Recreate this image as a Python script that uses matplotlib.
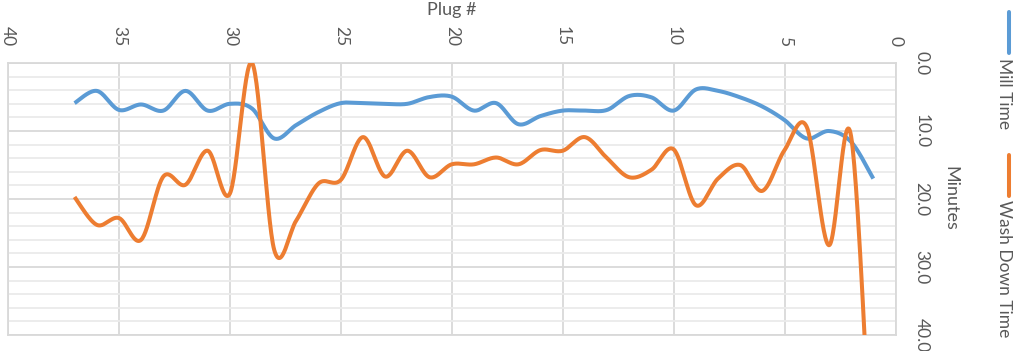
import numpy as np
import matplotlib
matplotlib.use("Agg")
import matplotlib.pyplot as plt
from matplotlib.lines import Line2D

plt.rcParams['font.family'] = ['Lato', 'DejaVu Sans']

plugs = list(range(1, 38))
mill_time = [17.0, 11.6, 10.0, 11.1, 8.4, 6.4, 5.05, 4.1, 3.9, 7.0,
             5.05, 4.85, 6.9, 7.0, 7.0, 7.8, 9.0, 5.9, 7.0, 4.95,
             5.0, 6.0, 6.0, 5.9, 5.9, 7.2, 9.1, 11.1, 6.7, 6.0,
             7.0, 4.1, 7.0, 6.1, 6.9, 4.1, 5.9]
wash_time = [66.0, 10.8, 26.8, 9.4, 12.8, 18.8, 15.0, 17.0, 20.9, 12.7,
             15.7, 16.8, 14.0, 10.9, 12.9, 12.8, 14.9, 13.9, 14.9, 14.9,
             16.8, 12.9, 16.7, 10.9, 17.2, 17.7, 23.1, 27.5, 0.0, 19.2,
             12.9, 17.9, 16.7, 26.0, 22.8, 23.8, 19.7]
series_names = ["Mill Time", "Wash Down Time"]
colors = ["#5B9BD5", "#ED7D31"]
x_ticks = [0, 5, 10, 15, 20, 25, 30, 35, 40]
y_ticks = [0, 10, 20, 30, 40]

TXT = "#595959"
GRID = "#d9d9d9"


def smooth(xs, ys, n=30):
    xs = np.asarray(xs, float)
    ys = np.asarray(ys, float)
    P = np.column_stack([xs, ys])
    out = []
    for i in range(len(P) - 1):
        p0 = P[i - 1] if i > 0 else P[i]
        p1 = P[i]
        p2 = P[i + 1]
        p3 = P[i + 2] if i + 2 < len(P) else P[i + 1]
        c1 = p1 + (p2 - p0) / 6.0
        c2 = p2 - (p3 - p1) / 6.0
        t = np.linspace(0, 1, n, endpoint=(i == len(P) - 2))[:, None]
        seg = ((1 - t) ** 3) * p1 + 3 * ((1 - t) ** 2) * t * c1 + 3 * (1 - t) * t ** 2 * c2 + t ** 3 * p2
        out.append(seg)
    out = np.vstack(out)
    return out[:, 0], out[:, 1]


W, H = 1017, 351
fig = plt.figure(figsize=(W / 100, H / 100), dpi=100)
L, R, T, B = 8, 895.5, 63, 335
ax = fig.add_axes([L / W, 1 - B / H, (R - L) / W, (B - T) / H])

ax.set_xlim(40, 0)
ax.set_ylim(40, 0)
ax.set_xticks(x_ticks)
ax.set_yticks(y_ticks)
ax.set_yticks(np.arange(0, 41, 2), minor=True)
ax.set_yticklabels([f"{v:.1f}" for v in y_ticks])

ax.grid(True, which='major', axis='both', color=GRID, lw=1.3, zorder=0)
ax.grid(True, which='minor', axis='y', color="#ebebeb", lw=1.3, zorder=0)
ax.set_axisbelow(True)
for s in ax.spines.values():
    s.set_color(GRID)
    s.set_linewidth(1.3)

ax.tick_params(axis='x', which='both', top=False, bottom=False, labeltop=True,
               labelbottom=False, labelrotation=-90, pad=12, labelsize=12.5,
               labelcolor=TXT, length=0)
ax.tick_params(axis='y', which='both', left=False, right=False, labelleft=False,
               labelright=True, labelrotation=-90, pad=13, labelsize=12.5,
               labelcolor=TXT, length=0)
for lab in ax.get_yticklabels():
    lab.set_va('center')

for vals, c in zip([mill_time, wash_time], colors):
    sx, sy = smooth(plugs, vals)
    ax.plot(sx, sy, color=c, lw=2.9, solid_capstyle='butt', zorder=3)

fig.text(451.7 / W, 1 - 10 / H, "Plug #", ha='center', va='center', fontsize=13, color=TXT)
fig.text(950 / W, 1 - 198 / H, "Minutes", ha='center', va='center', rotation=-90,
         fontsize=13, color=TXT)

# legend (rotated)
lx = 1009 / W
tx = 1004 / W
fig.add_artist(Line2D([lx, lx], [1 - 12 / H, 1 - 53 / H], color=colors[0], lw=2.9,
                      solid_capstyle='round', transform=fig.transFigure))
fig.text(tx, 1 - 58 / H, series_names[0], rotation=-90, ha='center', va='top',
         fontsize=12.5, color=TXT)
fig.add_artist(Line2D([lx, lx], [1 - 155 / H, 1 - 196 / H], color=colors[1], lw=2.9,
                      solid_capstyle='round', transform=fig.transFigure))
fig.text(tx, 1 - 200 / H, series_names[1], rotation=-90, ha='center', va='top',
         fontsize=12.5, color=TXT)

fig.savefig("out.png", dpi=100)
